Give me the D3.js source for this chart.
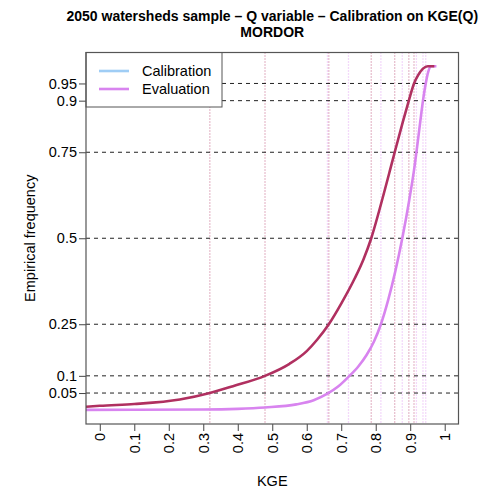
<!DOCTYPE html>
<html>
<head>
<meta charset="utf-8">
<script src="https://cdn.jsdelivr.net/npm/d3@7"></script>
<style>
  html, body { margin: 0; padding: 0; background: #fff; }
  svg { display: block; font-family: "Liberation Sans", Arial, Helvetica, sans-serif; }
</style>
</head>
<body>
<svg id="chart" width="488" height="488"></svg>
<script>
// Empirical distribution of KGE over the watershed sample
const titleLines = ["2050 watersheds sample \u2013 Q variable \u2013 Calibration on KGE(Q)", "MORDOR"];
const xLabel = "KGE";
const yLabel = "Empirical frequency";

const xTicks = [0, 0.1, 0.2, 0.3, 0.4, 0.5, 0.6, 0.7, 0.8, 0.9, 1];
const xTickLabels = ["0", "0.1", "0.2", "0.3", "0.4", "0.5", "0.6", "0.7", "0.8", "0.9", "1"];
const yTicks = [0.05, 0.1, 0.25, 0.5, 0.75, 0.9, 0.95];
const yTickLabels = ["0.05", "0.1", "0.25", "0.5", "0.75", "0.9", "0.95"];

// dark curve: KGE values and cumulative frequency
const darkKGE  = [-0.04, 0, 0.1, 0.232, 0.319, 0.386, 0.479, 0.55, 0.6, 0.63, 0.664, 0.7, 0.74, 0.765, 0.787, 0.81, 0.842, 0.855, 0.879, 0.896, 0.911, 0.923, 0.937, 0.951, 0.97];
const darkFreq = [0.010, 0.013, 0.018, 0.031, 0.05, 0.07, 0.1, 0.135, 0.172, 0.205, 0.25, 0.31, 0.385, 0.44, 0.5, 0.58, 0.70, 0.75, 0.84, 0.9, 0.95, 0.974, 0.993, 1.0, 1.0];

// light curve: KGE values and cumulative frequency
const lightKGE  = [-0.04, 0.3, 0.4, 0.479, 0.57, 0.62, 0.66, 0.69, 0.721, 0.75, 0.773, 0.795, 0.815, 0.836, 0.877, 0.897, 0.913, 0.918, 0.929, 0.937, 0.945, 0.952, 0.961, 0.976];
const lightFreq = [0.001, 0.002, 0.004, 0.008, 0.017, 0.029, 0.048, 0.068, 0.097, 0.128, 0.16, 0.2, 0.25, 0.32, 0.5, 0.61, 0.712, 0.75, 0.838, 0.9, 0.95, 0.983, 1.0, 1.0];

// KGE at each quantile level, per curve
const darkQuantKGE  = [0.319, 0.479, 0.664, 0.787, 0.855, 0.896, 0.911];
const lightQuantKGE = [0.66, 0.721, 0.815, 0.877, 0.918, 0.937, 0.945];

const legendLabels = ["Calibration", "Evaluation"];
const legendColors = ["#9fcdf5", "#d884ef"];
const darkColor = "#B03060";
const lightColor = "#d884ef";

const svg = d3.select("#chart");
const box = { left: 86, right: 458.5, top: 52.5, bottom: 424 };

const x = d3.scaleLinear().domain([-0.04, 1.04]).range([box.left, box.right]);
const y = d3.scaleLinear().domain([-0.04, 1.04]).range([box.bottom, box.top]);

// title
svg.append("g").selectAll("text").data(titleLines).join("text")
  .attr("x", (box.left + box.right) / 2)
  .attr("y", (d, i) => 21 + i * 16)
  .attr("text-anchor", "middle")
  .attr("font-weight", "bold")
  .attr("font-size", 14)
  .attr("fill", "#000")
  .text(d => d);

svg.append("clipPath").attr("id", "plotclip")
  .append("rect").attr("x", box.left).attr("y", box.top)
  .attr("width", box.right - box.left).attr("height", box.bottom - box.top);

const plot = svg.append("g").attr("clip-path", "url(#plotclip)");

// vertical dotted lines at quantile KGE values
plot.append("g").selectAll("line").data(darkQuantKGE).join("line")
  .attr("x1", d => x(d)).attr("x2", d => x(d))
  .attr("y1", box.top).attr("y2", box.bottom)
  .attr("stroke", darkColor).attr("stroke-opacity", 0.6)
  .attr("stroke-width", 1.3).attr("stroke-dasharray", "1,2");
plot.append("g").selectAll("line").data(lightQuantKGE).join("line")
  .attr("x1", d => x(d)).attr("x2", d => x(d))
  .attr("y1", box.top).attr("y2", box.bottom)
  .attr("stroke", lightColor).attr("stroke-opacity", 0.6)
  .attr("stroke-width", 1.3).attr("stroke-dasharray", "1,2");

// horizontal dashed lines at quantile levels
plot.append("g").selectAll("line").data(yTicks).join("line")
  .attr("x1", box.left).attr("x2", box.right)
  .attr("y1", d => y(d)).attr("y2", d => y(d))
  .attr("stroke", "#222").attr("stroke-width", 1)
  .attr("stroke-dasharray", "4,4");

// curves
const line = d3.line().x(d => x(d[0])).y(d => y(d[1])).curve(d3.curveMonotoneX);
plot.append("path").datum(d3.zip(lightKGE, lightFreq))
  .attr("d", line).attr("fill", "none")
  .attr("stroke", lightColor).attr("stroke-width", 2.6).attr("stroke-linejoin", "round");
plot.append("path").datum(d3.zip(darkKGE, darkFreq))
  .attr("d", line).attr("fill", "none")
  .attr("stroke", darkColor).attr("stroke-width", 2.6).attr("stroke-linejoin", "round");

// axes
const xAxis = d3.axisBottom(x).tickValues(xTicks)
  .tickFormat((d, i) => xTickLabels[i]).tickSize(7).tickSizeOuter(0);
const gx = svg.append("g").attr("transform", `translate(0,${box.bottom})`).call(xAxis);
gx.select(".domain").remove();
gx.selectAll(".tick line").attr("stroke", "#444");
gx.selectAll(".tick text")
  .attr("transform", "rotate(-90)")
  .attr("x", -9).attr("y", 0).attr("dy", "0.35em")
  .attr("text-anchor", "end")
  .attr("font-size", 14.5).attr("font-family", null).attr("fill", "#000");

const yAxis = d3.axisLeft(y).tickValues(yTicks)
  .tickFormat((d, i) => yTickLabels[i]).tickSize(7).tickSizeOuter(0);
const gy = svg.append("g").attr("transform", `translate(${box.left},0)`).call(yAxis);
gy.select(".domain").remove();
gy.selectAll(".tick line").attr("stroke", "#444");
gy.selectAll(".tick text").attr("x", -9)
  .attr("font-size", 14.5).attr("font-family", null).attr("fill", "#000");

// axis titles
svg.append("text").attr("x", (box.left + box.right) / 2).attr("y", 486)
  .attr("text-anchor", "middle").attr("font-size", 14.5).text(xLabel);
svg.append("text")
  .attr("transform", `translate(35,${y(0.5)}) rotate(-90)`)
  .attr("text-anchor", "middle").attr("font-size", 14.5).text(yLabel);

// legend
const lg = svg.append("g");
lg.append("rect").attr("x", box.left).attr("y", box.top)
  .attr("width", 136).attr("height", 54.5)
  .attr("fill", "#fff").attr("stroke", "#555").attr("stroke-width", 1);
lg.selectAll("line.key").data(legendLabels).join("line")
  .attr("x1", 99).attr("x2", 129)
  .attr("y1", (d, i) => 71 + i * 18).attr("y2", (d, i) => 71 + i * 18)
  .attr("stroke", (d, i) => legendColors[i]).attr("stroke-width", 2.6);
lg.selectAll("text").data(legendLabels).join("text")
  .attr("x", 142).attr("y", (d, i) => 71 + i * 18).attr("dy", "0.35em")
  .attr("font-size", 14.5).text(d => d);

// plot frame
svg.append("rect").attr("x", box.left).attr("y", box.top)
  .attr("width", box.right - box.left).attr("height", box.bottom - box.top)
  .attr("fill", "none").attr("stroke", "#555").attr("stroke-width", 1.2);
</script>
</body>
</html>
